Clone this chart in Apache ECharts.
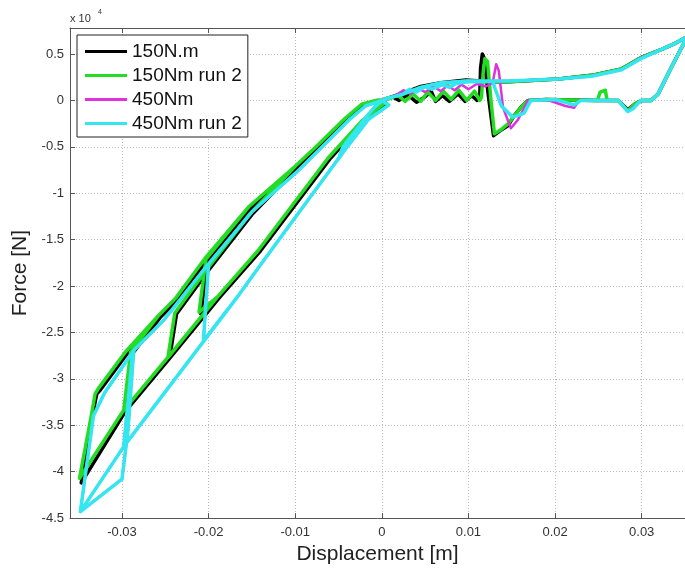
<!DOCTYPE html>
<html><head><meta charset="utf-8">
<script src="https://cdn.jsdelivr.net/npm/echarts@6/dist/echarts.min.js"></script>
<style>html,body{margin:0;padding:0;background:#fff}#c{width:685px;height:570px}</style>
</head><body><div id="c"></div><script>
// ---- series names & colours ----
const seriesNames = ['150N.m', '150Nm run 2', '450Nm', '450Nm run 2'];
const seriesColors = ['#000000', '#22dd22', '#e030e0', '#33e6f0'];

// ---- positive-displacement loops [x (m), F (N)] ----
const posBlack = [[0,0],[0.0012,400],[0.0020,0],[0.0030,600],[0.0040,-200],[0.0050,400],[0.0057,1000],[0.0062,-100],[0.0070,500],[0.0078,-100],[0.0088,700],[0.0096,-100],[0.0104,500],[0.0110,0],[0.0113,300],[0.0114,3500],[0.0116,5000],[0.0118,4600],[0.0123,500],[0.0129,-3800],[0.0136,-3300],[0.0146,-2700],[0.0153,-1600],[0.0162,-600],[0.0169,0],[0.0190,100],[0.0249,0],[0.0273,0],[0.0284,-1000],[0.0292,-400],[0.0300,0],[0.0311,0],[0.0319,700],[0.0335,3700],[0.0353,6900],[0.0340,6200],[0.0323,5500],[0.0299,4600],[0.0277,3400],[0.0242,2700],[0.0204,2300],[0.0146,2000],[0.0126,2000],[0.0097,2200],[0.0068,1900],[0.0045,1500],[0.0022,700],[0.0005,200],[0,0]];
const posGreen = [[0,0],[0.0010,200],[0.0018,600],[0.0027,-100],[0.0036,700],[0.0045,-100],[0.0053,900],[0.0062,0],[0.0071,1000],[0.0080,100],[0.0089,1100],[0.0098,0],[0.0107,1000],[0.0113,0],[0.0115,300],[0.0117,3000],[0.0119,4500],[0.0122,4200],[0.0126,0],[0.0130,-3600],[0.0137,-3200],[0.0146,-2500],[0.0155,-1400],[0.0163,-500],[0.0170,0],[0.0190,100],[0.0249,0],[0.0252,900],[0.0258,1100],[0.0260,0],[0.0273,0],[0.0284,-1100],[0.0292,-400],[0.0300,0],[0.0311,0],[0.0319,700],[0.0335,3700],[0.0353,6900],[0.0340,6200],[0.0323,5500],[0.0299,4600],[0.0277,3400],[0.0242,2700],[0.0204,2300],[0.0146,2000],[0.0126,2000],[0.0097,2100],[0.0068,1800],[0.0045,1400],[0.0022,600],[0.0005,200],[0,0]];
const posMagenta = [[0,0],[0.0015,500],[0.0025,1100],[0.0033,700],[0.0042,1300],[0.0050,900],[0.0060,1500],[0.0068,1000],[0.0076,1600],[0.0084,1100],[0.0092,1700],[0.0100,1200],[0.0110,1800],[0.0120,1500],[0.0128,1900],[0.0132,3900],[0.0135,3200],[0.0140,-800],[0.0149,-3000],[0.0157,-2100],[0.0169,0],[0.0190,100],[0.0212,-600],[0.0222,-800],[0.0228,0],[0.0249,0],[0.0273,0],[0.0284,-1200],[0.0300,0],[0.0311,0],[0.0319,700],[0.0335,3700],[0.0353,6900],[0.0340,6200],[0.0323,5500],[0.0299,4600],[0.0277,3300],[0.0242,2600],[0.0204,2300],[0.0146,2100],[0.0126,2100],[0.0097,2100],[0.0068,1900],[0.0045,1400],[0.0022,600],[0.0005,200],[0,0]];
const posCyan = [[0,0],[0.0010,300],[0.0025,700],[0.0032,1200],[0.0040,900],[0.0050,1500],[0.0058,1200],[0.0070,1700],[0.0078,1400],[0.0085,1800],[0.0100,2000],[0.0115,2000],[0.0128,2100],[0.0131,1200],[0.0138,-600],[0.0151,-1800],[0.0164,-1400],[0.0172,0],[0.0200,100],[0.0215,-300],[0.0222,-500],[0.0230,0],[0.0249,0],[0.0273,0],[0.0284,-1200],[0.0290,-900],[0.0299,0],[0.0311,0],[0.0319,700],[0.0335,3700],[0.0353,6900],[0.0340,6200],[0.0323,5500],[0.0299,4500],[0.0277,3300],[0.0242,2600],[0.0204,2300],[0.0146,2100],[0.0100,2100],[0.0068,1900],[0.0045,1400],[0.0022,600],[0.0005,200],[0,0]];

// ---- negative-displacement branches (loading = moving left, unloading = moving right) ----
const load150 = [[0.0005,-300],[-0.0020,-2200],[-0.0059,-6200],[-0.0140,-16200],[-0.0187,-21200],[-0.0245,-27800],[-0.0296,-33500],[-0.0347,-40900]];
const unload150 = [[-0.0329,-31600],[-0.0325,-31200],[-0.0294,-27300],[-0.0256,-23400],[-0.0236,-21500],[-0.0202,-17200],[-0.0151,-11600],[-0.0098,-7300],[-0.0074,-5200],[-0.0040,-2000],[-0.0021,-500],[-0.0005,0],[0,0]];
const cycles150 = [
  [[-0.0209,-23000],[-0.0201,-17300]],
  [[-0.0245,-27800],[-0.0237,-23000],[-0.0200,-18300],[-0.0150,-12300]],
  [[-0.0296,-33500],[-0.0288,-27300]],
  [[-0.0347,-41200],[-0.03345,-34100]]
];
const loadRun2 = [[0.0003,-300],[-0.0023,-2200],[-0.0062,-6200],[-0.0143,-16200],[-0.0190,-21200],[-0.0248,-27800],[-0.0299,-33500],[-0.0349,-40700]];
const unloadRun2 = [[-0.0331,-31600],[-0.0327,-31000],[-0.0296,-27100],[-0.0258,-23200],[-0.0238,-21300],[-0.0204,-17000],[-0.0153,-11400],[-0.0100,-7100],[-0.0076,-5000],[-0.0042,-1900],[-0.0023,-400],[-0.0007,0],[0,0]];
const cyclesRun2 = [
  [[-0.0211,-22800],[-0.0203,-17100]],
  [[-0.0247,-27700],[-0.0239,-22900],[-0.0202,-18200],[-0.0152,-12200]],
  [[-0.0298,-33400],[-0.0290,-27100]],
  [[-0.0349,-40700],[-0.03355,-34000]]
];
const load450 = [[0.0008,-500],[-0.0015,-2000],[-0.0044,-5500],[-0.0140,-17700],[-0.0167,-21200],[-0.0281,-35200],[-0.0298,-37300],[-0.0348,-44300]];
const unload450 = [[-0.0320,-31500],[-0.0286,-26900],[-0.0252,-23700],[-0.0200,-17600],[-0.0150,-12000],[-0.0097,-7600],[-0.0072,-5300],[-0.0038,-2100],[-0.0019,-600],[0,0]];
const cycles450 = [
  [[-0.0050,-6300],[-0.0045,-5000],[-0.0020,-2000],[-0.0008,-700]],
  [[-0.0206,-25900],[-0.0200,-17600]],
  [[-0.0298,-37300],[-0.0288,-27500]],
  [[-0.0348,-44300],[-0.0300,-40800],[-0.0293,-35500],[-0.0287,-27600]],
  [[-0.0348,-44300],[-0.0333,-34000]]
];

// ---- axis tick settings ----
const yTickStep = 5000;

function buildNeg(load, unload, cycles) {
  const pts = [];
  cycles.forEach(cyc => {
    const tip = cyc[0], last = cyc[cyc.length - 1];
    pts.push([0, 0]);
    load.forEach(p => { if (p[0] > tip[0]) pts.push(p); });
    cyc.forEach(p => pts.push(p));
    unload.forEach(p => { if (p[0] > last[0]) pts.push(p); });
  });
  return pts;
}

const seriesData = [
  posBlack.concat(buildNeg(load150, unload150, cycles150)),
  posGreen.concat(buildNeg(loadRun2, unloadRun2, cyclesRun2)),
  posMagenta.concat(buildNeg(load450, unload450, cycles450)),
  posCyan.concat(buildNeg(load450, unload450, cycles450))
];
const widths = [3.5, 3.5, 2.5, 3.5];

const FONT = 'Liberation Sans, Arial, Helvetica, sans-serif';
const chart = echarts.init(document.getElementById('c'), null, {renderer: 'canvas'});
const axisCol = '#555';
chart.setOption({
  animation: false,
  backgroundColor: '#fff',
  grid: {left: 70, right: 0, top: 28, bottom: 49, containLabel: false},
  xAxis: [{
    type: 'value', min: -0.036, max: 0.035, splitNumber: 7,
    name: 'Displacement [m]', nameLocation: 'middle', nameGap: 19,
    nameTextStyle: {fontSize: 21, color: '#222', fontFamily: FONT, verticalAlign: 'top'},
    axisLine: {show: true, onZero: false, lineStyle: {color: axisCol}},
    axisTick: {show: true, inside: true, length: 5, lineStyle: {color: axisCol}},
    axisLabel: {color: '#333', fontSize: 13, fontFamily: FONT, margin: 8, showMinLabel: false, showMaxLabel: false,
      formatter: v => String(+v.toFixed(3))},
    splitLine: {show: true, lineStyle: {color: '#bbbbbb', type: [1, 2], width: 1}}
  }, {
    type: 'value', position: 'top', min: -0.036, max: 0.035, splitNumber: 7,
    axisLine: {show: true, onZero: false, lineStyle: {color: axisCol}},
    axisTick: {show: true, inside: true, length: 5, lineStyle: {color: axisCol}},
    axisLabel: {show: false}, splitLine: {show: false}
  }],
  yAxis: [{
    type: 'value', min: -45000, max: 7800, interval: yTickStep,
    name: 'Force [N]', nameLocation: 'middle', nameGap: 28, nameRotate: 90,
    nameTextStyle: {fontSize: 21, color: '#222', fontFamily: FONT},
    axisLine: {show: true, onZero: false, lineStyle: {color: axisCol}},
    axisTick: {show: true, inside: true, length: 5, lineStyle: {color: axisCol}},
    axisLabel: {color: '#333', fontSize: 13, fontFamily: FONT, margin: 6, showMaxLabel: false,
      formatter: v => String(+(v / 1e4).toFixed(2))},
    splitLine: {show: true, lineStyle: {color: '#bbbbbb', type: [1, 2], width: 1}}
  }],
  legend: {
    orient: 'vertical', left: 77, top: 35,
    data: seriesNames, icon: 'rect', itemWidth: 42, itemHeight: 3, itemGap: 5,
    padding: [7, 6, 4, 8], backgroundColor: '#fff', borderColor: '#222', borderWidth: 1,
    textStyle: {fontSize: 19, color: '#111', fontFamily: FONT, padding: [0, 0, 0, 0]},
    selectedMode: false, z: 20
  },
  graphic: [
    {type: 'text', left: 70, top: 13, style: {text: 'x 10', fontSize: 11, fill: '#333', fontFamily: FONT}},
    {type: 'text', left: 98, top: 9, style: {text: '4', fontSize: 7, fill: '#333', fontFamily: FONT}}
  ],
  series: seriesNames.map((n, i) => ({
    name: n, type: 'line', data: seriesData[i], showSymbol: false, symbol: 'none',
    color: seriesColors[i], lineStyle: {width: widths[i], color: seriesColors[i], join: 'round'},
    clip: true, z: 2 + i, silent: true
  }))
});
</script></body></html>
